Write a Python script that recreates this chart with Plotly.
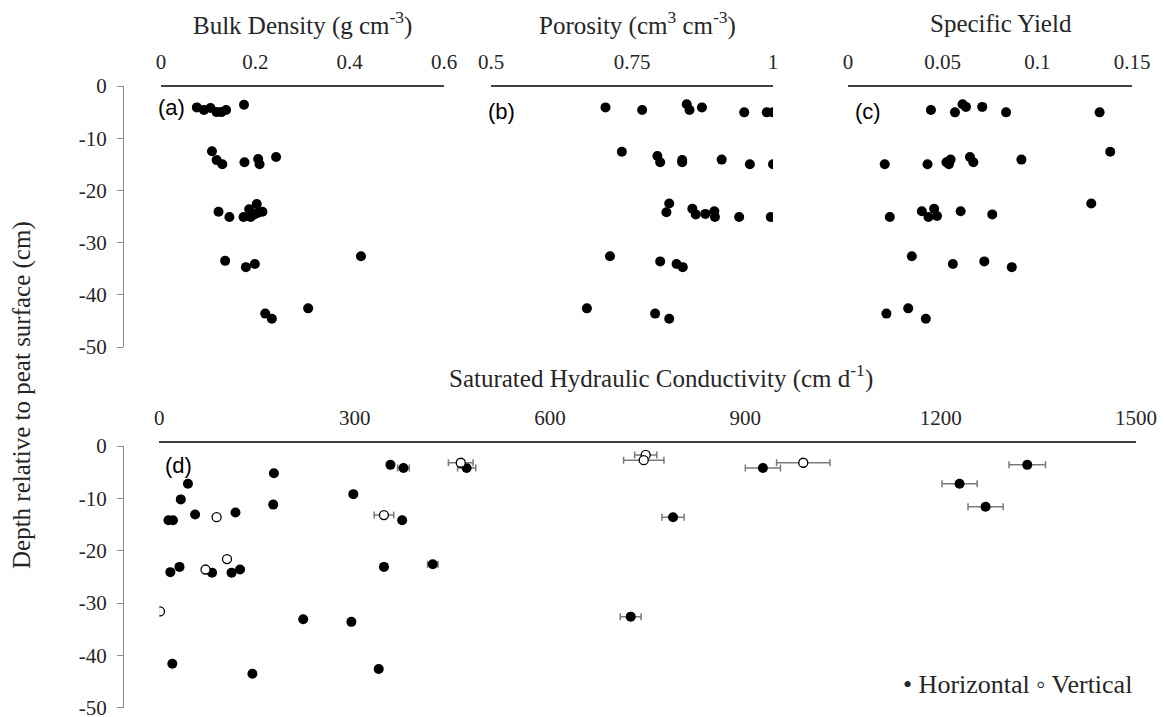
import plotly.graph_objects as go

W, H = 1164, 717

# ---- Panel (a): bulk density (g cm-3) vs depth (cm)
bulk_density = [0.076, 0.091, 0.105, 0.118, 0.128, 0.138, 0.176,
                0.108, 0.118, 0.130, 0.177, 0.206, 0.209, 0.244,
                0.122, 0.145, 0.175, 0.187, 0.190, 0.203, 0.198, 0.215, 0.205,
                0.136, 0.180, 0.199, 0.424,
                0.312, 0.221, 0.235]
bulk_depth = [-4.1, -4.6, -4.2, -5.0, -5.0, -4.6, -3.6,
              -12.5, -14.2, -15.0, -14.6, -14.0, -15.0, -13.6,
              -24.1, -25.1, -25.1, -23.6, -25.1, -22.6, -24.6, -24.1, -24.3,
              -33.5, -34.7, -34.1, -32.6,
              -42.6, -43.6, -44.6]

# ---- Panel (b): porosity (cm3 cm-3)
porosity = [0.703, 0.768, 0.847, 0.852, 0.874, 0.949, 0.989, 1.000,
            0.732, 0.795, 0.800, 0.839, 0.839, 0.909, 0.959, 1.000,
            0.816, 0.811, 0.857, 0.863, 0.880, 0.896, 0.897, 0.940, 0.996,
            0.711, 0.800, 0.829, 0.840,
            0.670, 0.791, 0.816]
porosity_depth = [-4.1, -4.6, -3.5, -4.6, -4.1, -5.05, -5.05, -5.05,
                  -12.6, -13.4, -14.6, -14.2, -14.6, -14.1, -15.0, -15.0,
                  -22.5, -24.2, -23.5, -24.6, -24.5, -24.0, -25.1, -25.1, -25.1,
                  -32.6, -33.6, -34.1, -34.7,
                  -42.6, -43.6, -44.6]

# ---- Panel (c): specific yield
specific_yield = [0.0438, 0.0565, 0.0605, 0.0623, 0.0709, 0.0835, 0.1329,
                  0.0194, 0.0420, 0.0520, 0.0542, 0.0533, 0.0644, 0.0662, 0.0916, 0.1385,
                  0.0221, 0.0390, 0.0455, 0.0425, 0.0470, 0.0595, 0.0762, 0.1285,
                  0.0337, 0.0554, 0.0720, 0.0865,
                  0.0203, 0.0318, 0.0411]
sy_depth = [-4.6, -5.05, -3.5, -4.0, -4.0, -5.05, -5.05,
            -15.0, -15.0, -14.6, -14.1, -15.0, -13.6, -14.6, -14.1, -12.6,
            -25.1, -24.0, -23.5, -25.1, -24.9, -24.0, -24.6, -22.5,
            -32.6, -34.1, -33.6, -34.7,
            -43.6, -42.6, -44.6]

# ---- Panel (d): saturated hydraulic conductivity (cm d-1), mean +/- error
ksat_h = [176, 44, 33, 14, 21, 55, 117, 175, 298, 355, 375, 472, 373,
          17, 31, 81, 111, 124, 345, 420, 221, 295, 20, 143, 337,
          789, 724, 927, 1333, 1229, 1269]
ksat_h_depth = [-5.2, -7.2, -10.2, -14.2, -14.2, -13.1, -12.7, -11.2, -9.2, -3.6, -4.2, -4.2, -14.2,
                -24.1, -23.1, -24.2, -24.2, -23.6, -23.1, -22.6, -33.1, -33.6, -41.6, -43.5, -42.6,
                -13.6, -32.6, -4.2, -3.6, -7.2, -11.6]
ksat_h_err = [0, 0, 0, 0, 0, 0, 0, 0, 0, 3, 9, 14, 0,
              0, 0, 0, 0, 0, 3, 8, 0, 0, 0, 0, 4,
              17, 16, 27, 28, 27, 27]

ksat_v = [88, 104, 71, 1, 345, 463, 747, 744, 989]
ksat_v_depth = [-13.6, -21.6, -23.6, -31.6, -13.2, -3.2, -1.7, -2.7, -3.2]
ksat_v_err = [0, 0, 0, 0, 15, 19, 17, 31, 41]

depth_ticks = [0, -10, -20, -30, -40, -50]
depth_labels = ["0", "-10", "-20", "-30", "-40", "-50"]


def fx(px):
    return px / W


def fy(py):
    return 1 - py / H


SERIF = "Liberation Serif, Times New Roman, serif"
SANS = "Liberation Sans, Arial, sans-serif"
TXT = "#262626"

filled = dict(size=10, color="black", line=dict(width=0))
hollow = dict(size=9, color="white", line=dict(width=1.3, color="black"))
err_style = dict(type="data", color="#7a7a7a", thickness=1.5, width=3.5)

fig = go.Figure()
fig.add_trace(go.Scatter(x=bulk_density, y=bulk_depth, mode="markers",
                         marker=filled, xaxis="x", yaxis="y", showlegend=False))
fig.add_trace(go.Scatter(x=porosity, y=porosity_depth, mode="markers",
                         marker=filled, xaxis="x2", yaxis="y", showlegend=False))
fig.add_trace(go.Scatter(x=specific_yield, y=sy_depth, mode="markers",
                         marker=filled, xaxis="x3", yaxis="y", showlegend=False))
fig.add_trace(go.Scatter(x=ksat_h, y=ksat_h_depth, mode="markers", name="Horizontal",
                         marker=filled, error_x=dict(array=ksat_h_err, **err_style),
                         xaxis="x4", yaxis="y2", showlegend=False))
fig.add_trace(go.Scatter(x=ksat_v, y=ksat_v_depth, mode="markers", name="Vertical",
                         marker=hollow, error_x=dict(array=ksat_v_err, **err_style),
                         xaxis="x4", yaxis="y2", showlegend=False))

tickfont = dict(family=SERIF, size=21, color=TXT)

xcommon = dict(side="top", anchor="free", showgrid=False, zeroline=False,
               showline=True, linecolor="#404040", linewidth=2, ticks="",
               tickfont=tickfont, ticklabelstandoff=8, fixedrange=True,
               automargin=False, ticklabeloverflow="allow")
ycommon = dict(anchor="free", position=fx(123), showgrid=False, zeroline=False,
               showline=True, linecolor="#8c8c8c", linewidth=1.3,
               ticks="outside", ticklen=6, tickcolor="#8c8c8c", tickwidth=1.3,
               tickvals=depth_ticks, ticktext=depth_labels, tickfont=tickfont,
               ticklabelstandoff=6, range=[-50, 0], automargin=False,
               fixedrange=True, ticklabeloverflow="allow")

fig.update_layout(
    width=W, height=H, autosize=False,
    margin=dict(l=0, r=0, t=0, b=0, pad=0, autoexpand=False),
    paper_bgcolor="white", plot_bgcolor="rgba(0,0,0,0)",
    xaxis=dict(domain=[fx(161), fx(444)], range=[0, 0.6],
               tickvals=[0, 0.2, 0.4, 0.6], position=fy(86), **xcommon),
    xaxis2=dict(domain=[fx(491), fx(773)], range=[0.5, 1],
                tickvals=[0.5, 0.75, 1], position=fy(86), **xcommon),
    xaxis3=dict(domain=[fx(848), fx(1132)], range=[0, 0.15],
                tickvals=[0, 0.05, 0.1, 0.15], ticktext=["0", "0.05", "0.1", "0.15"],
                position=fy(86), **xcommon),
    xaxis4=dict(domain=[fx(159.3), fx(1136)], range=[0, 1500],
                tickvals=[0, 300, 600, 900, 1200, 1500], position=fy(442), **xcommon),
    yaxis=dict(domain=[fy(347), fy(86)], **ycommon),
    yaxis2=dict(domain=[fy(707.7), fy(446)], **ycommon),
)

titlefont = dict(family=SERIF, size=25, color=TXT)
legendfont = dict(family=SERIF, size=26, color=TXT)
labelfont = dict(family=SANS, size=22, color="black")


def note(text, px, py, font, **kw):
    opts = dict(xanchor="center", yanchor="middle")
    opts.update(kw)
    fig.add_annotation(text=text, x=fx(px), y=fy(py), xref="paper", yref="paper",
                       showarrow=False, font=font, **opts)


note("Bulk Density (g cm<sup>-3</sup>)", 302, 24, titlefont)
note("Porosity (cm<sup>3</sup> cm<sup>-3</sup>)", 637, 24, titlefont)
note("Specific Yield", 1001, 24, titlefont)
note("Saturated Hydraulic Conductivity (cm d<sup>-1</sup>)", 661, 376, titlefont)
note("Depth relative to peat surface (cm)", 22, 395, titlefont, textangle=-90)

note("(a)", 171, 108, labelfont)
note("(b)", 501, 111, labelfont)
note("(c)", 868, 111, labelfont)
note("(d)", 178, 465, labelfont)

note("\u2022 Horizontal \u25e6 Vertical", 1134, 684, legendfont, xanchor="right")

fig.write_html("out.html")
